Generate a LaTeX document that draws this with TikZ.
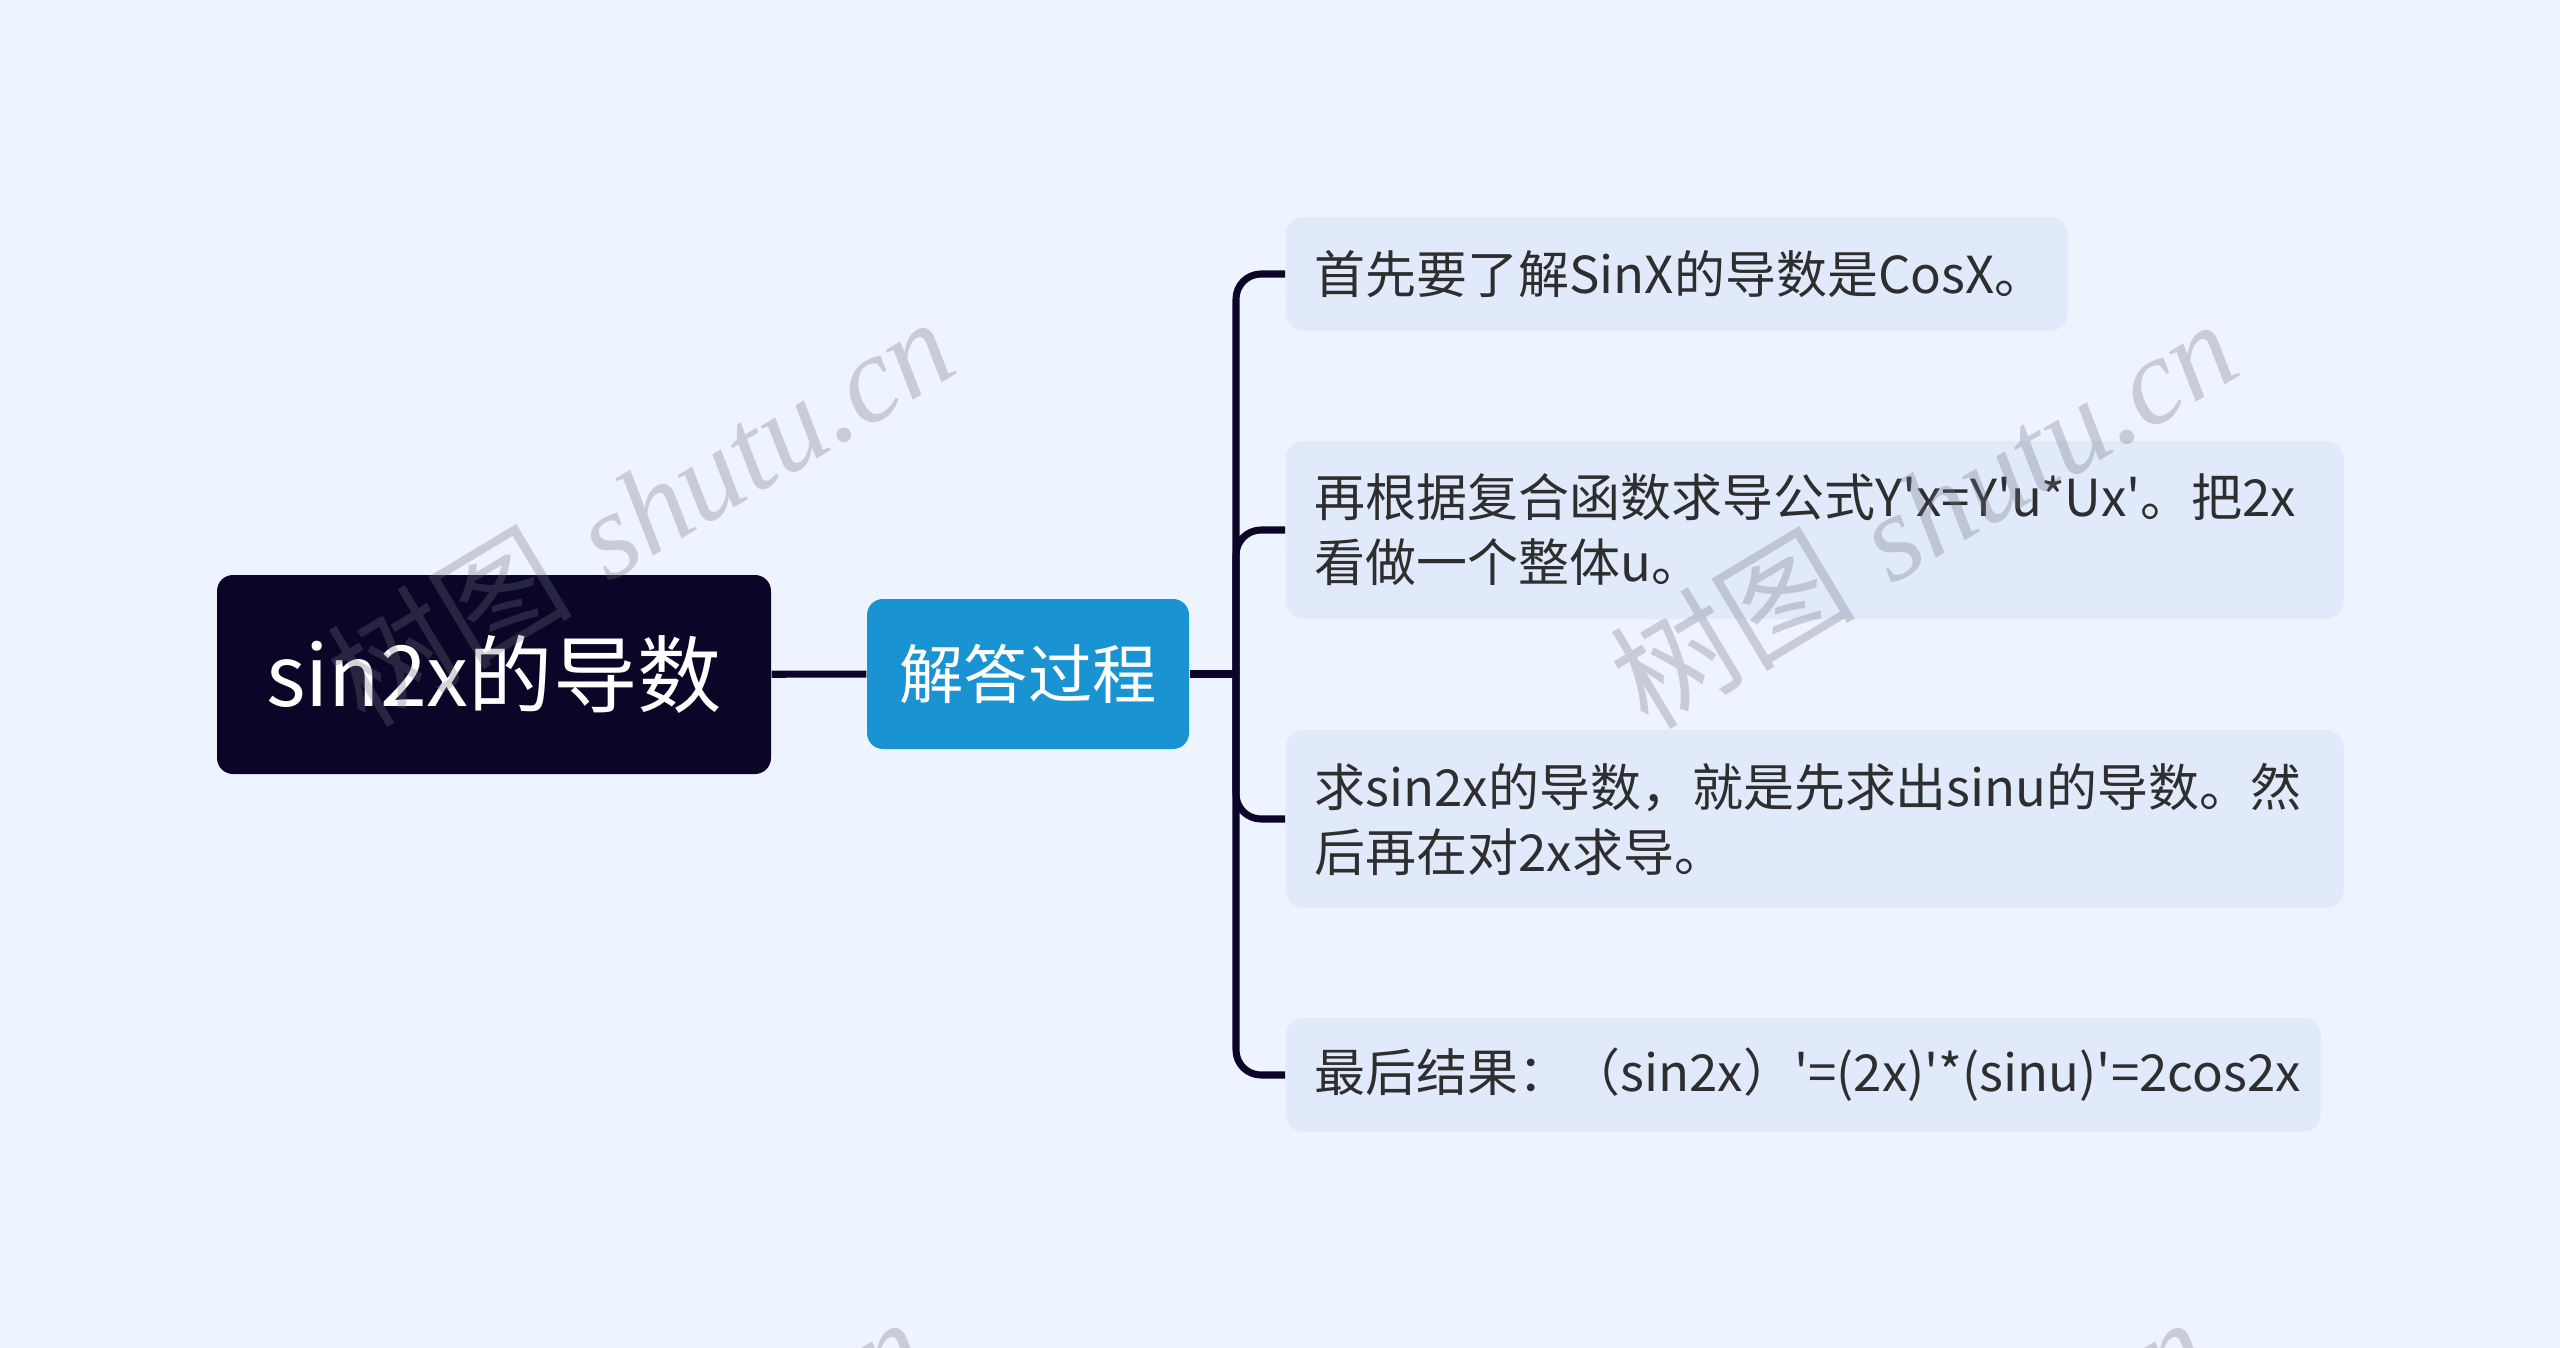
\documentclass[tikz,border=0pt]{standalone}
\usepackage{fontspec}
\newfontfamily\cjk{Noto Sans CJK SC}
\newfontfamily\wmserif{Liberation Serif}
\definecolor{mm_bg}{HTML}{EEF4FF}
\definecolor{mm_root}{HTML}{0B0527}
\definecolor{mm_proc}{HTML}{1A93D2}
\definecolor{mm_leaf}{HTML}{E1EAFB}
\definecolor{mm_text}{HTML}{2E2E2E}
\definecolor{mm_line}{HTML}{0B0527}
\definecolor{mm_wm}{HTML}{6E7180}
\tikzstyle{rootn}=[rectangle,rounded corners=0.16cm,fill=mm_root,text=white,
  font=\cjk\fontsize{24}{28}\selectfont,minimum width=5.54cm,minimum height=1.99cm]
\tikzstyle{procn}=[rectangle,rounded corners=0.16cm,fill=mm_proc,text=white,
  font=\cjk\fontsize{18.3}{22}\selectfont,minimum width=3.22cm,minimum height=1.5cm]
\tikzstyle{leaf}=[rectangle,rounded corners=0.18cm,fill=mm_leaf,text=mm_text,
  font=\cjk\fontsize{14.5}{18.5}\selectfont,align=left,inner xsep=0.29cm,
  inner ysep=0pt,anchor=west]
\tikzstyle{link}=[draw=mm_line,line width=2pt,rounded corners=0.25cm]
\tikzstyle{wm}=[text=mm_wm,text opacity=0.3,rotate=31,font=\fontsize{35}{41}\selectfont]

\begin{document}
\begin{tikzpicture}
    \useasboundingbox (0,0) rectangle (25.6,-13.48);
    \clip (0,0) rectangle (25.6,-13.48);
    \fill[mm_bg] (0,0) rectangle (25.6,-13.48);
    \node [style=rootn] (root) at (4.94,-6.745) {sin2x的导数};
    \node [style=procn] (proc) at (10.28,-6.74) {解答过程};
    \coordinate (hub) at (12.36,-6.74);
    \node [style=leaf,text width=7.24cm,minimum height=1.14cm] (l1) at (12.85,-2.74)
      {首先要了解SinX的导数是CosX。};
    \node [style=leaf,text width=10cm,minimum height=1.78cm] (l2) at (12.85,-5.3)
      {再根据复合函数求导公式Y'x=Y'u*Ux'。把2x\\看做一个整体u。};
    \node [style=leaf,text width=10cm,minimum height=1.78cm] (l3) at (12.85,-8.19)
      {求sin2x的导数，就是先求出sinu的导数。然\\后再在对2x求导。};
    \node [style=leaf,text width=9.77cm,minimum height=1.14cm] (l4) at (12.85,-10.75)
      {最后结果：（sin2x）'=(2x)'*(sinu)'=2cos2x};
    \draw [style=link] (root) to (proc);
    \draw [style=link] (proc) to (hub);
    \draw [style=link] (hub) |- (l1.west);
    \draw [style=link] (hub) |- (l2.west);
    \draw [style=link] (hub) |- (l3.west);
    \draw [style=link] (hub) |- (l4.west);
    \node [style=wm] (wm1) at (6.4,-5.1) {{\cjk 树图} {\wmserif\itshape shutu.cn}};
    \node [style=wm] (wm2) at (19.23,-5.12) {{\cjk 树图} {\wmserif\itshape shutu.cn}};
    \node [style=wm] (wm3) at (6.12,-15.1) {{\cjk 树图} {\wmserif\itshape shutu.cn}};
    \node [style=wm] (wm4) at (18.95,-15.1) {{\cjk 树图} {\wmserif\itshape shutu.cn}};
  \end{tikzpicture}
\end{document}
